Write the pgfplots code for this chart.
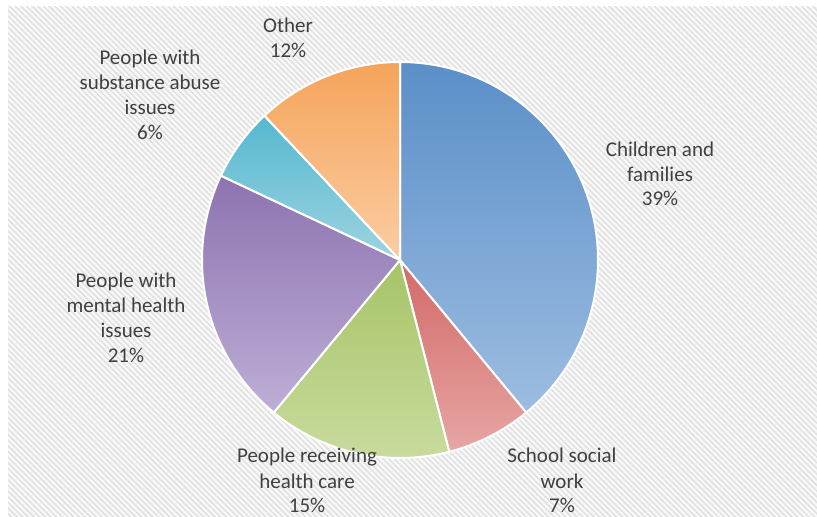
\documentclass[border=0pt]{standalone}
\usepackage{pgfplots}
\pgfplotsset{compat=1.18}
\usepackage{pgfplotstable}
\usepackage{fontspec}
\setmainfont{Carlito}
\usetikzlibrary{patterns.meta}

\definecolor{ctop0}{HTML}{5A8FC8}\definecolor{cbot0}{HTML}{9DBDE1}
\definecolor{ctop1}{HTML}{D26A68}\definecolor{cbot1}{HTML}{E7A6A4}
\definecolor{ctop2}{HTML}{A6C466}\definecolor{cbot2}{HTML}{CADCA1}
\definecolor{ctop3}{HTML}{8D73B0}\definecolor{cbot3}{HTML}{BDAED6}
\definecolor{ctop4}{HTML}{55B8CF}\definecolor{cbot4}{HTML}{9DD4E1}
\definecolor{ctop5}{HTML}{F5A45A}\definecolor{cbot5}{HTML}{FBCDA3}
\definecolor{txt}{HTML}{404040}
\definecolor{bgc}{HTML}{F8F8F8}
\definecolor{stripe}{HTML}{E0E0E0}

\tikzset{lab/.style={anchor=base, inner sep=0pt, text=txt, font=\fontsize{21bp}{25bp}\selectfont}}

\pgfplotstableread{
label value
Children 39
School 7
Health 15
Mental 21
Substance 6
Other 12
}\piedata

\begin{document}
\begin{tikzpicture}
\xdef\curang{90}
\foreach \i in {0,...,5}{
  \pgfplotstablegetelem{\i}{value}\of\piedata
  \pgfmathsetmacro\endang{\curang-3.6*\pgfplotsretval}
  \expandafter\xdef\csname sa\i\endcsname{\curang}
  \expandafter\xdef\csname ea\i\endcsname{\endang}
  \xdef\curang{\endang}
}
\begin{axis}[
  scale only axis, width=817bp, height=517bp,
  xmin=0, xmax=817, ymin=0, ymax=517,
  hide axis, clip=false,
]
\fill[white] (axis cs:0,0) rectangle (axis cs:817,517);
\fill[bgc] (axis cs:8,0) rectangle (axis cs:817,510);
\fill[pattern={Lines[angle=-45, distance=4bp, line width=1.5bp]}, pattern color=stripe] (axis cs:8,0) rectangle (axis cs:817,510);
\pgfplotsinvokeforeach{0,...,5}{
  \path[draw=white, line width=2bp, line join=round, top color=ctop#1, bottom color=cbot#1]
    (axis cs:400,257) -- ++(\csname sa#1\endcsname:198bp)
    arc[start angle=\csname sa#1\endcsname, end angle=\csname ea#1\endcsname, radius=198bp] -- cycle;
}
\node[lab] at (axis cs:288,484) {Other};
\node[lab] at (axis cs:288,459) {12\%};
\node[lab] at (axis cs:150,452) {People with};
\node[lab] at (axis cs:150,427) {substance abuse};
\node[lab] at (axis cs:150,402) {issues};
\node[lab] at (axis cs:150,377) {6\%};
\node[lab] at (axis cs:660,360) {Children and};
\node[lab] at (axis cs:660,335.5) {families};
\node[lab] at (axis cs:660,311) {39\%};
\node[lab] at (axis cs:126,229) {People with};
\node[lab] at (axis cs:126,204) {mental health};
\node[lab] at (axis cs:126,179) {issues};
\node[lab] at (axis cs:126,154) {21\%};
\node[lab] at (axis cs:307,54) {People receiving};
\node[lab] at (axis cs:307,29) {health care};
\node[lab] at (axis cs:307,5) {15\%};
\node[lab] at (axis cs:562,54) {School social};
\node[lab] at (axis cs:562,29) {work};
\node[lab] at (axis cs:562,5) {7\%};
\end{axis}
\end{tikzpicture}
\end{document}
